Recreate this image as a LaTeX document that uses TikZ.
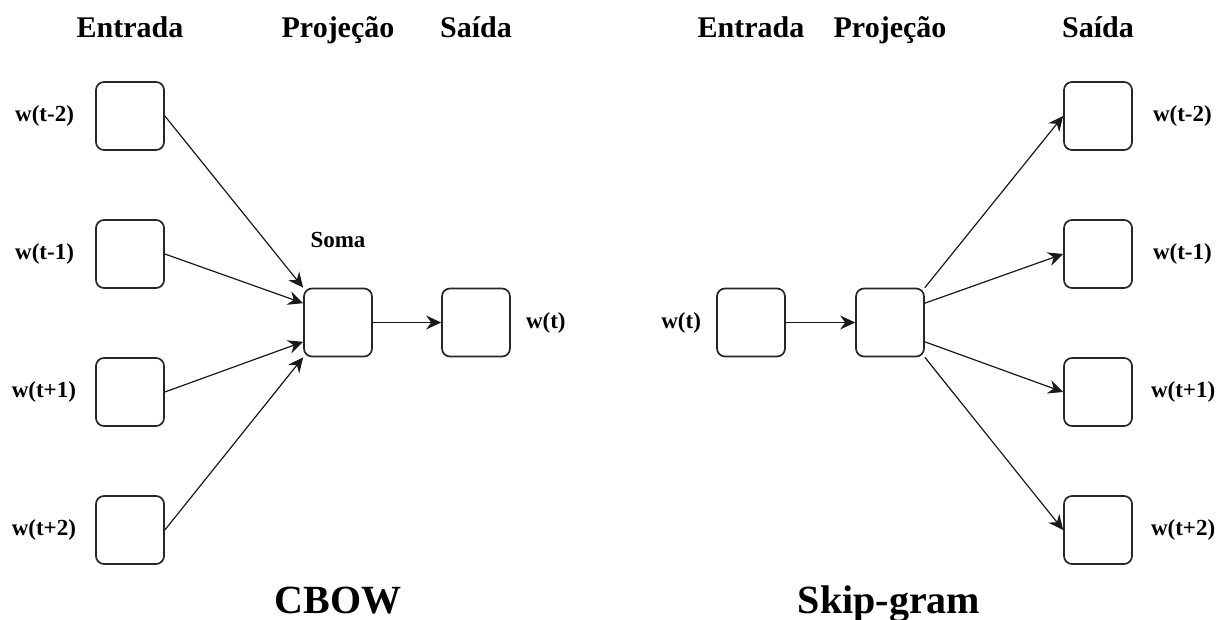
\documentclass[tikz,border=0pt]{standalone}
\usepackage{fontspec}
\setmainfont{Liberation Serif}
\usepackage{tikz}
\usetikzlibrary{arrows.meta,positioning}

\tikzset{
  wbox/.style={draw=black!85, line width=1.7pt, rounded corners=8pt,
    minimum width=68pt, minimum height=68pt, inner sep=0pt},
  wlabel/.style={inner sep=0pt, font=\fontsize{23}{26}\selectfont\bfseries},
  header/.style={inner sep=0pt, anchor=base, font=\fontsize{30}{34}\selectfont\bfseries},
  model/.style={inner sep=0pt, anchor=base, font=\fontsize{40}{46}\selectfont\bfseries},
  link/.style={draw=black!90, line width=1.2pt, -{Stealth[length=15pt,width=14pt,inset=5pt]}}
}

\begin{document}
\begin{tikzpicture}[x=1pt, y=-1pt]
  \useasboundingbox (0,0) rectangle (1217,620);

  % ---- CBOW ----
  % Column titles
  \node[header] at (130,38) {Entrada};
  \node[header] at (338,38) {Projeção};
  \node[header] at (476,38) {Saída};
  % Context words in
  \node[wbox] (cin1) at (130,116) {};
  \node[wbox] (cin2) at (130,254) {};
  \node[wbox] (cin3) at (130,392) {};
  \node[wbox] (cin4) at (130,530) {};
  \node[wlabel, left=21pt of cin1] {w(t-2)};
  \node[wlabel, left=21pt of cin2] {w(t-1)};
  \node[wlabel, left=19pt of cin3] {w(t+1)};
  \node[wlabel, left=19pt of cin4] {w(t+2)};
  % Projection (sum) and output word
  \node[wbox] (cproj) at (338,322.5) {};
  \node[wlabel, above=40pt of cproj] {Soma};
  \node[wbox] (cout) at (476,322.5) {};
  \node[wlabel, right=15pt of cout] {w(t)};
  % Arrows
  \draw[link] (cin1.east) -- (cproj.north west);
  \draw[link] (cin2.east) -- (cproj.151);
  \draw[link] (cin3.east) -- (cproj.209);
  \draw[link] (cin4.east) -- (cproj.south west);
  \draw[link] (cproj.east) -- (cout.west);
  \node[model] at (338,613) {CBOW};

  % ---- Skip-gram ----
  % Column titles
  \node[header] at (751,38) {Entrada};
  \node[header] at (890,38) {Projeção};
  \node[header] at (1098,38) {Saída};
  % Input word and projection
  \node[wbox] (sin) at (751,322.5) {};
  \node[wlabel, left=15pt of sin] {w(t)};
  \node[wbox] (sproj) at (890,322.5) {};
  % Context words out
  \node[wbox] (sout1) at (1098,116) {};
  \node[wbox] (sout2) at (1098,254) {};
  \node[wbox] (sout3) at (1098,392) {};
  \node[wbox] (sout4) at (1098,530) {};
  \node[wlabel, right=20pt of sout1] {w(t-2)};
  \node[wlabel, right=20pt of sout2] {w(t-1)};
  \node[wlabel, right=18pt of sout3] {w(t+1)};
  \node[wlabel, right=18pt of sout4] {w(t+2)};
  % Arrows
  \draw[link] (sin.east) -- (sproj.west);
  \draw[link] (sproj.north east) -- (sout1.west);
  \draw[link] (sproj.29) -- (sout2.west);
  \draw[link] (sproj.331) -- (sout3.west);
  \draw[link] (sproj.south east) -- (sout4.west);
  \node[model] at (889,613) {Skip-gram};

\end{tikzpicture}
\end{document}
